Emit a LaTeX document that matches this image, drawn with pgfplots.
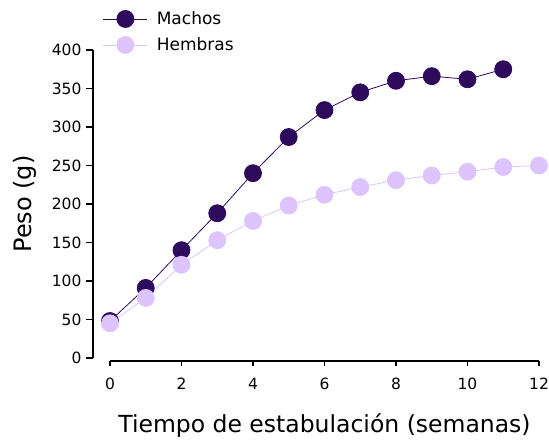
\documentclass[border=0pt]{standalone}
\usepackage{pgfplots}
\pgfplotsset{compat=1.18}
\usepackage{fontspec}
\setmainfont{DejaVu Sans}
\definecolor{macho}{HTML}{2E0A5C}
\definecolor{hembra}{HTML}{DDC4FC}

\pgfplotstableread{
x y
0 48
1 91
2 140
3 188
4 240
5 287
6 322
7 345
8 360
9 366
10 362
11 375
}\machos

\pgfplotstableread{
x y
0 45
1 78
2 121
3 153
4 178
5 198
6 212
7 222
8 231
9 237
10 242
11 248
12 250
}\hembras

\begin{document}
\begin{tikzpicture}
\useasboundingbox (-93pt,-84pt) rectangle (456pt,358pt);
% data axis with the y axis only
\begin{axis}[
    at={(0pt,0pt)}, anchor=south west,
    scale only axis,
    width=446pt, height=308pt,
    xmin=-0.475, xmax=12,
    ymin=0, ymax=400,
    clip=false,
    /pgf/number format/assume math mode=true,
    axis y line*=left,
    axis x line=none,
    axis line style={-, black, line width=1.2pt},
    ytick={0,50,...,400},
    tick align=outside,
    major tick length=7pt,
    tick style={black, line width=1.2pt},
    yticklabel style={font=\fontsize{15.5}{17}\selectfont, xshift=-1pt},
    ylabel={Peso (g)},
    ylabel style={font=\fontsize{24}{26}\selectfont, at={(-68pt,0.5)}, anchor=center, rotate=0},
    legend style={draw=none, fill=none, at={(0.022,1.129)}, anchor=north west,
        font=\fontsize{17}{19}\selectfont, row sep=9pt, inner sep=0pt,
        nodes={inner xsep=9pt, inner ysep=1pt}},
    legend cell align=left,
    legend image code/.code={
        \draw[#1, mark repeat=2, mark phase=2]
        plot coordinates {(0pt,0pt) (22pt,0pt) (44pt,0pt)};},
]
\addplot[color=macho, line width=0.8pt, mark=*,
    mark options={mark size=8.5pt, fill=macho, draw=macho}]
    table[x=x, y=y] {\machos};
\addplot[color=hembra, line width=0.8pt, mark=*,
    mark options={mark size=8.5pt, fill=hembra, draw=hembra}]
    table[x=x, y=y] {\hembras};
\legend{Machos, Hembras}
\end{axis}
% detached x axis
\begin{axis}[
    at={(17pt,-3pt)}, anchor=south west,
    scale only axis,
    width=429pt, height=1pt,
    xmin=0, xmax=12, ymin=0, ymax=1,
    /pgf/number format/assume math mode=true,
    axis x line*=bottom,
    axis y line=none,
    axis line style={-, black, line width=1.2pt},
    xtick={0,2,...,12},
    ytick=\empty,
    tick align=outside,
    major tick length=5pt,
    tick style={black, line width=1.2pt},
    xticklabel style={font=\fontsize{15.5}{17}\selectfont, anchor=center, yshift=-18pt},
    xlabel={Tiempo de estabulación (semanas)},
    xlabel style={font=\fontsize{23.5}{26}\selectfont, at={(0.5,-65pt)}, anchor=center},
]
\end{axis}
\end{tikzpicture}
\end{document}
